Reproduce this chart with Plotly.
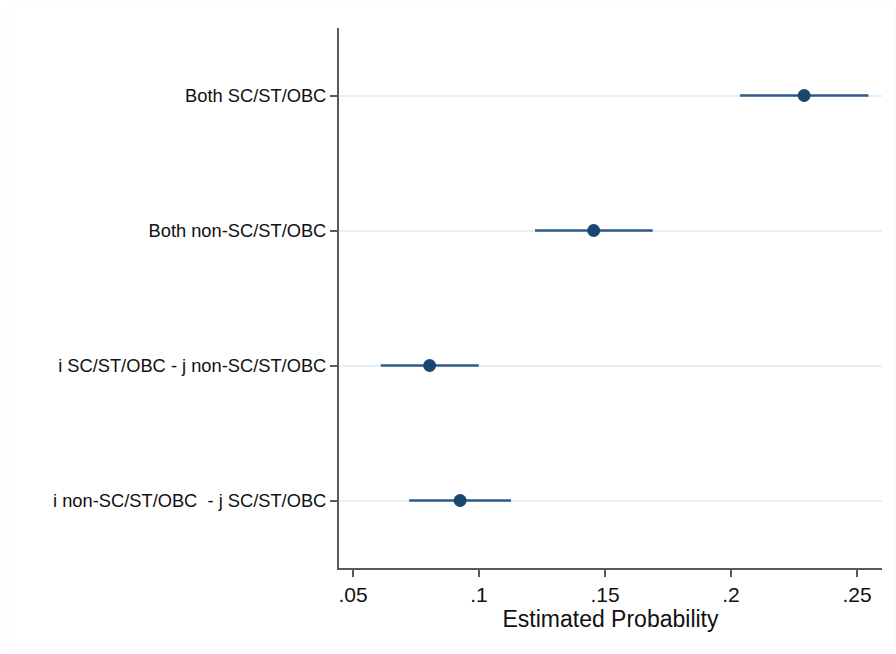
import plotly.graph_objects as go

categories = ["Both SC/ST/OBC", "Both non-SC/ST/OBC",
              "i SC/ST/OBC - j non-SC/ST/OBC", "i non-SC/ST/OBC\u00a0 - j SC/ST/OBC"]
estimates = [0.2290, 0.1455, 0.0804, 0.0925]
ci_low = [0.2036, 0.1222, 0.0610, 0.0723]
ci_high = [0.2545, 0.1689, 0.0999, 0.1127]
x_ticks = [0.05, 0.10, 0.15, 0.20, 0.25]
x_tick_labels = [".05", ".1", ".15", ".2", ".25"]

positions = list(range(1, len(categories) + 1))
navy = "#1a476f"

fig = go.Figure()
for c, lo, hi, p in zip(categories, ci_low, ci_high, positions):
    fig.add_trace(go.Scatter(x=[lo, hi], y=[p, p], mode="lines",
                             line=dict(color="#2e5a87", width=2.5),
                             showlegend=False, hoverinfo="skip"))
fig.add_trace(go.Scatter(x=estimates, y=positions, mode="markers",
                         marker=dict(color=navy, size=13),
                         showlegend=False))

W, H = 896, 654
L, R, T, B = 339, 14, 28, 86
fig.update_layout(
    width=W, height=H,
    margin=dict(l=L, r=R, t=T, b=B),
    paper_bgcolor="white", plot_bgcolor="white",
    font=dict(family="Liberation Sans, Arial, sans-serif", color="#111111"),
    xaxis=dict(
        range=[0.04444, 0.2599], tickvals=x_ticks, ticktext=x_tick_labels,
        showgrid=False, zeroline=False, showline=True, linecolor="#5a5a5a",
        linewidth=2, ticks="outside", ticklen=7, tickcolor="#5a5a5a", tickwidth=1.5,
        tickfont=dict(size=21),
        title=dict(text="Estimated Probability", font=dict(size=23), standoff=2),
    ),
    yaxis=dict(
        range=[4.5, 0.5], tickvals=positions, ticktext=categories,
        showgrid=True, gridcolor="#e6eff1", gridwidth=1.5, zeroline=False,
        showline=True, linecolor="#5a5a5a", linewidth=2,
        ticks="outside", ticklen=7, tickcolor="#5a5a5a", tickwidth=1.5,
        tickfont=dict(size=18.3),
    ),
)
pw, ph = W - L - R, H - T - B
fig.add_shape(type="rect", xref="paper", yref="paper",
              x0=(8 - L) / pw, x1=(895 - L) / pw,
              y0=(H - B - 650) / ph, y1=(H - B - 5) / ph,
              line=dict(color="#f8f8f8", width=1), fillcolor="rgba(0,0,0,0)", layer="below")
fig.write_html("out.html")
